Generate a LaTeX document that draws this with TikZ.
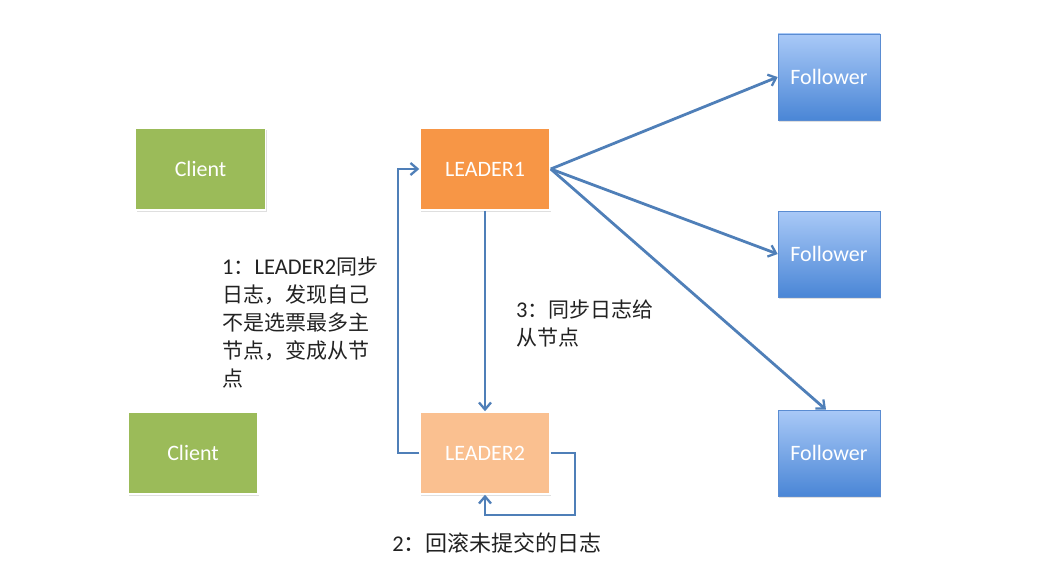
\documentclass[tikz,border=0pt]{standalone}
\usepackage{fontspec}
\setmainfont{Carlito}
\newfontfamily\cjk{Noto Sans CJK SC}
\usetikzlibrary{arrows.meta,shadows}
\definecolor{cgreen}{HTML}{9BBB59}
\definecolor{corange}{HTML}{F79646}
\definecolor{clight}{HTML}{FAC090}
\definecolor{ftop}{HTML}{A9C9F7}
\definecolor{fbot}{HTML}{4A86D6}
\definecolor{fedge}{HTML}{5A8CD2}
\definecolor{arrowc}{HTML}{4F7FB8}
\definecolor{txt}{HTML}{222222}
\tikzset{
  box/.style={rectangle, draw=white, line width=1.5pt, text=white,
    font=\fontsize{22}{26}\selectfont,
    drop shadow={shadow xshift=1pt, shadow yshift=-2pt, opacity=0.25}},
  clientbox/.style={box, fill=cgreen, minimum width=130pt, minimum height=82pt},
  leaderbox/.style={box, fill=corange, minimum width=130pt, minimum height=82pt},
  leadertwo/.style={box, fill=clight, minimum width=130pt, minimum height=82pt},
  followbox/.style={rectangle, draw=fedge, line width=0.6pt, text=white,
    top color=ftop, bottom color=fbot, minimum width=102pt, minimum height=86pt,
    font=\fontsize{22}{26}\selectfont,
    drop shadow={shadow xshift=1pt, shadow yshift=-2pt, opacity=0.25}},
  arr/.style={draw=arrowc, line width=2.8pt, -{Straight Barb[length=7pt,width=12pt,line width=2.3pt]}},
  lbl/.style={text=txt, align=left, inner sep=0pt,
    font=\fontsize{21}{28}\selectfont}
}
\newcommand{\latn}[1]{{\rmfamily\fontsize{22.5}{28}\selectfont #1}}
\begin{document}
\begin{tikzpicture}[x=1pt,y=-1pt]
\useasboundingbox (0,0) rectangle (1040,572);
\node[clientbox] (c1) at (200.5,169) {Client};
\node[clientbox] (c2) at (193,453) {Client};
\node[leaderbox] (l1) at (485,169) {LEADER1};
\node[leadertwo] (l2) at (485,453) {LEADER2};
\node[followbox] (f1) at (829,77) {Follower};
\node[followbox] (f2) at (829,254) {Follower};
\node[followbox] (f3) at (829,453) {Follower};

\coordinate (lb) at (398,453);
\draw[arr] (l2.west) -- (lb) |- (l1.west);
\draw[arr] (l1.south) -- (l2.north);
\coordinate (rb) at (575,453);
\coordinate (bb) at (575,515);
\draw[arr] (l2.east) -- (rb) -- (bb) -| (l2.south);
\draw[arr] (l1.east) -- (f1.west);
\draw[arr] (l1.east) -- (f2.west);
\draw[arr] (l1.east) -- ([xshift=-3pt]f3.north);

\node[lbl, anchor=north west] (t1) at (222,257) {\latn{1}\cjk ：\latn{LEADER2}\cjk 同步\\\cjk 日志，发现自己\\\cjk 不是选票最多主\\\cjk 节点，变成从节\\\cjk 点};
\node[lbl, anchor=north west] (t3) at (516,300) {\latn{3}\cjk ：同步日志给\\\cjk 从节点};
\node[lbl, anchor=center, font=\fontsize{22}{28}\selectfont] (t2) at (497,543) {\latn{2}\cjk ：回滚未提交的日志};
\end{tikzpicture}
\end{document}
